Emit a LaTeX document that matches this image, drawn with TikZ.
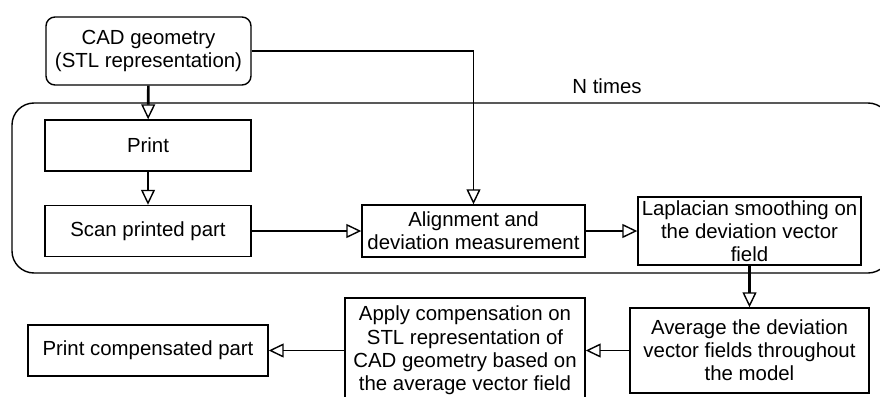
\documentclass[tikz,border=0pt]{standalone}
\usepackage{fontspec}
\setmainfont{Liberation Sans}
\usetikzlibrary{arrows.meta}
\usetikzlibrary{positioning}
\tikzstyle{stepbox}=[rectangle,draw,line width=1.4pt,inner sep=0pt,align=center,font=\fontsize{20.4}{23.2}\selectfont]
\tikzstyle{roundbox}=[stepbox,rounded corners=9pt]
\tikzstyle{edge} = [draw,line width=1.4pt,-{Triangle[open,length=15pt,width=14pt]}]
\tikzstyle{thickedge} = [edge,line width=2.6pt,-{Triangle[open,length=15pt,width=14pt,line width=1.4pt]}]

\begin{document}
\begin{tikzpicture}[x=1pt,y=-1pt]
    \useasboundingbox (0,0) rectangle (880,396);
    % the loop that is repeated N times
    \draw[line width=1.4pt,rounded corners=22pt] (12,103) rectangle (890,273);
    \node[font=\fontsize{20.4}{23.2}\selectfont] (ntimes) at (607,86) {N times};

    % First we draw the boxes
    \node[roundbox,minimum width=205pt,minimum height=68pt] (cad) at (148.5,51) {CAD geometry\\(STL representation)};

    \foreach \pos/\name/\label in {{(148,145.5)/print/Print}, {(148,231)/scan/Scan printed part}}
        \node[stepbox,minimum width=206pt,minimum height=51pt] (\name) at \pos {\label};

    \node[stepbox,minimum width=223pt,minimum height=52pt] (align) at (473.5,231) {Alignment and\\deviation measurement};
    \node[stepbox,minimum width=223pt,minimum height=68pt] (smooth) at (749.5,231) {Laplacian smoothing on\\the deviation vector\\field};
    \node[stepbox,minimum width=239pt,minimum height=85pt] (average) at (749.5,350.5) {Average the deviation\\vector fields throughout\\the model};
    \node[stepbox,minimum width=240pt,minimum height=105pt] (apply) at (465,350.5) {Apply compensation on\\STL representation of\\CAD geometry based on\\the average vector field};
    \node[stepbox,minimum width=240pt,minimum height=51pt] (final) at (148,350.5) {Print compensated part};

    % Connect boxes with arrows
    \foreach \source/\dest in {cad/print, print/scan, smooth/average}
        \path[thickedge] (\source) -- (\dest);
    \foreach \source/\dest in {scan/align, align/smooth, average/apply, apply/final}
        \path[edge] (\source) -- (\dest);
    \path[edge] (cad.east) -| (align.north);
\end{tikzpicture}
\end{document}
